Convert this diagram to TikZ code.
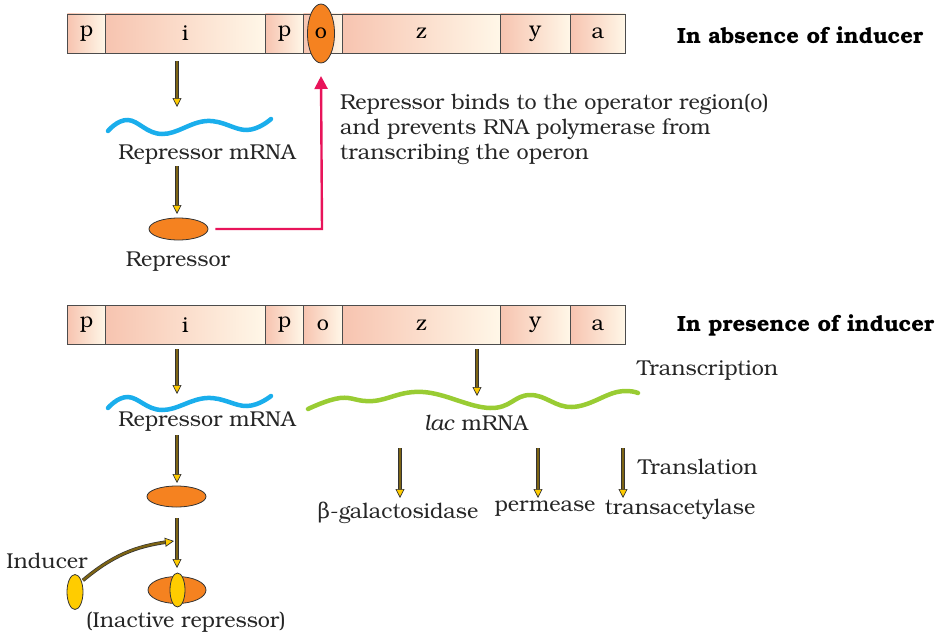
\documentclass[tikz,border=0pt]{standalone}
\usepackage{fontspec}
\setmainfont{TeX Gyre Bonum}
\newfontfamily\grk{DejaVu Serif}
\usetikzlibrary{arrows.meta,shapes.geometric}
\definecolor{cellL}{RGB}{247,196,176}
\definecolor{cellR}{RGB}{255,247,232}
\definecolor{orng}{RGB}{245,130,32}
\definecolor{yel}{RGB}{255,204,0}
\definecolor{mblue}{RGB}{26,174,236}
\definecolor{mgreen}{RGB}{153,204,51}
\definecolor{rarrow}{RGB}{232,20,90}
\definecolor{shaft}{RGB}{125,100,20}
\newcommand{\fs}{\fontsize{21.5}{25}\selectfont}
\newcommand{\mkcell}[5]{\node[cell, minimum width=#3pt-#2pt] (#1) at (#2,#4) {#5};}
\begin{document}
\begin{tikzpicture}[x=1pt,y=-1pt,
  cell/.style={draw=black!70, line width=0.9pt, left color=cellL, right color=cellR,
    minimum height=39pt, inner sep=0pt, anchor=west, font=\fs},
  lbl/.style={font=\fs, inner sep=0pt, text=black!85},
  head/.style={font=\fontsize{22}{24}\selectfont\bfseries, inner sep=0pt},
  barr/.style={line width=2.2pt, draw=shaft,
    -{Triangle[length=9pt,width=9pt,fill=yel,color=black!80,line width=0.7pt]},
    preaction={draw=black!80, line width=3.6pt, shorten >=7pt, arrows=-}},
  blob/.style={ellipse, draw=black!80, line width=0.8pt, fill=orng, inner sep=0pt},
  yblob/.style={ellipse, draw=black!80, line width=0.8pt, fill=yel, inner sep=0pt,
    minimum width=16pt, minimum height=35pt},
  wave/.style={line width=4.5pt, line cap=round}
]
\useasboundingbox (0,0) rectangle (940,642);
% ---------- top operon ----------
\mkcell{tp1}{67}{105}{33.5}{p}
\mkcell{ti}{105}{265}{33.5}{i}
\mkcell{tp2}{265}{303}{33.5}{p}
\mkcell{to}{303}{342}{33.5}{}
\mkcell{tz}{342}{500}{33.5}{z}
\mkcell{ty}{500}{570}{33.5}{y}
\mkcell{ta}{570}{625}{33.5}{a}
\node[blob, minimum width=27pt, minimum height=59pt, font=\fs] (op) at (321,33.5) {o};
\node[head, anchor=west] (habs) at (677,35) {In absence of inducer};

\coordinate (a1s) at (177,61);
\coordinate (a1e) at (177,107);
\draw[barr] (a1s) -- (a1e);
\draw[mblue, wave] plot[smooth, tension=0.7] coordinates {(108,131) (128,120) (162,134) (207,121) (247,130) (271,119)};
\node[lbl] (rm1) at (207,155) {Repressor mRNA};
\coordinate (a2s) at (177,166);
\coordinate (a2e) at (177,214);
\draw[barr] (a2s) -- (a2e);
\node[blob, minimum width=59pt, minimum height=22pt] (rep1) at (178.5,229) {};
\node[lbl] (rep1l) at (178,262) {Repressor};
\coordinate (rbend) at (322,229);
\draw[rarrow, line width=2.4pt, -{Triangle[length=13pt,width=13pt]}] (rep1.east) ++(7,0) -- (rbend) -- (op.south |- 0,76);
\node[lbl, anchor=north west, align=left] (expl) at (340,94)
  {Repressor binds to the operator region(o)\\and prevents RNA polymerase from\\transcribing the operon};

% ---------- bottom operon ----------
\mkcell{bp1}{67}{105}{325}{p}
\mkcell{bi}{105}{265}{325}{i}
\mkcell{bp2}{265}{303}{325}{p}
\mkcell{bo}{303}{342}{325}{o}
\mkcell{bz}{342}{500}{325}{z}
\mkcell{by}{500}{570}{325}{y}
\mkcell{ba}{570}{625}{325}{a}
\node[head, anchor=west] (hpres) at (677,325) {In presence of inducer};

\coordinate (b1s) at (177,349);
\coordinate (b1e) at (177,394);
\draw[barr] (b1s) -- (b1e);
\coordinate (b2s) at (477,349);
\coordinate (b2e) at (477,396);
\draw[barr] (b2s) -- (b2e);
\node[lbl, anchor=west] (trs) at (637,371) {Transcription};
\draw[mblue, wave] plot[smooth, tension=0.7] coordinates {(108,408) (128,397) (162,410) (207,398) (247,406) (271,396)};
\draw[mgreen, wave] plot[smooth, tension=0.7] coordinates {(308,409) (340,398) (373,401) (423,392) (490,408) (530,395) (572,407) (617,392) (638,393)};
\node[lbl] (rm2) at (207,422) {Repressor mRNA};
\node[lbl] (lac) at (476,423) {\textit{lac} mRNA};

\coordinate (t1s) at (400,448);
\coordinate (t1e) at (400,498);
\coordinate (t2s) at (538,448);
\coordinate (t2e) at (538,498);
\coordinate (t3s) at (623,448);
\coordinate (t3e) at (623,498);
\draw[barr] (t1s) -- (t1e);
\draw[barr] (t2s) -- (t2e);
\draw[barr] (t3s) -- (t3e);
\node[lbl, anchor=west] (trl) at (638,467) {Translation};
\node[lbl] (bgal) at (398,513) {{\grk β}-galactosidase};
\node[lbl] (perm) at (545,509) {permease};
\node[lbl] (tace) at (680,509) {transacetylase};

\coordinate (b3s) at (177,435);
\coordinate (b3e) at (177,483);
\draw[barr] (b3s) -- (b3e);
\node[blob, minimum width=59pt, minimum height=21pt] (rep2) at (176.5,496.5) {};
\coordinate (b4s) at (177,518);
\coordinate (b4e) at (177,568);
\draw[barr] (b4s) -- (b4e);
\node[blob, minimum width=58pt, minimum height=27pt] (irep) at (177,590) {};
\node[yblob, minimum width=15pt, minimum height=34pt] (iind) at (177.5,590) {};
\node[yblob] (ind) at (75,592) {};
\node[lbl] (indl) at (47,561) {Inducer};
\coordinate (cend) at (174,541);
\draw[barr] (ind.north east) ++(2,1) to[out=40, in=188] (cend);
\node[lbl] (inactl) at (186,622) {(Inactive repressor)};
\end{tikzpicture}
\end{document}
